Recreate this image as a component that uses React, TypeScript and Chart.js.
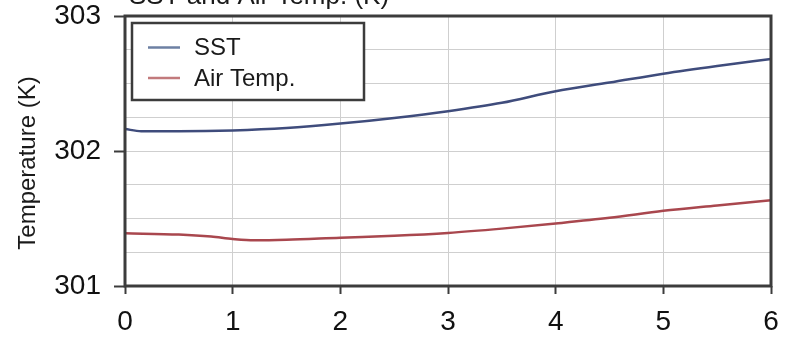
import React, { useEffect, useRef } from "react";
import { Chart, registerables } from "chart.js";

Chart.register(...registerables);

// Time axis (hours) and temperatures (K) for each series
const sstHours = [0, 0.15, 0.5, 1, 1.5, 2, 2.5, 3, 3.5, 4, 4.5, 5, 5.5, 6];
const sstValues = [302.163, 302.147, 302.146, 302.152, 302.17, 302.203, 302.245, 302.295, 302.357, 302.443, 302.507, 302.573, 302.63, 302.682];

const airHours = [0, 0.5, 0.8, 1, 1.2, 1.5, 2, 2.5, 3, 3.5, 4, 4.5, 5, 5.5, 6];
const airValues = [301.39, 301.381, 301.366, 301.348, 301.338, 301.342, 301.358, 301.372, 301.393, 301.425, 301.463, 301.505, 301.557, 301.597, 301.636];

const seriesLabels = ["SST", "Air Temp."];
const seriesColors = ["#3f4c7c", "#a9474e"];
const legendColors = ["#6d80a3", "#c27a7c"];

const chartTitle = "SST and Air Temp. (K)";
const yAxisTitle = "Temperature (K)";

const FONT = "'Liberation Sans', Arial, Helvetica, sans-serif";
const FRAME = "#3c3c3c";

const framePlugin = {
  id: "frame",
  afterDatasetsDraw(chart: any) {
    const { ctx, chartArea } = chart;
    ctx.save();
    ctx.strokeStyle = FRAME;
    ctx.lineWidth = 3;
    ctx.strokeRect(chartArea.left, chartArea.top, chartArea.right - chartArea.left, chartArea.bottom - chartArea.top);
    ctx.restore();
  },
};

const textPlugin = {
  id: "texts",
  afterDraw(chart: any) {
    const { ctx } = chart;
    ctx.save();
    // title sitting above the frame
    ctx.fillStyle = "#1a1a1a";
    ctx.font = `26px ${FONT}`;
    ctx.textAlign = "left";
    ctx.textBaseline = "alphabetic";
    ctx.fillText(chartTitle, 129, 4);

    // vertical axis title
    ctx.translate(28, 163);
    ctx.rotate(-Math.PI / 2);
    ctx.textAlign = "center";
    ctx.textBaseline = "middle";
    ctx.font = `24px ${FONT}`;
    ctx.fillText(yAxisTitle, 0, 0);
    ctx.restore();

    // legend box inside the plot
    ctx.save();
    const bx = 132, by = 23, bw = 232, bh = 77;
    ctx.fillStyle = "#fff";
    ctx.fillRect(bx, by, bw, bh);
    ctx.strokeStyle = FRAME;
    ctx.lineWidth = 2.5;
    ctx.strokeRect(bx, by, bw, bh);
    ctx.font = `24px ${FONT}`;
    ctx.textAlign = "left";
    ctx.textBaseline = "middle";
    const rows = [47.5, 78];
    seriesLabels.forEach((label, i) => {
      ctx.strokeStyle = legendColors[i];
      ctx.lineWidth = 2.5;
      ctx.beginPath();
      ctx.moveTo(148, rows[i]);
      ctx.lineTo(180, rows[i]);
      ctx.stroke();
      ctx.fillStyle = "#1a1a1a";
      ctx.fillText(label, 194, rows[i] + 1);
    });
    ctx.restore();
  },
};

export default function App() {
  const canvasRef = useRef<HTMLCanvasElement | null>(null);

  useEffect(() => {
    if (!canvasRef.current) return;
    const chart = new Chart(canvasRef.current, {
      type: "line",
      data: {
        datasets: [
          {
            label: seriesLabels[0],
            data: sstHours.map((h, i) => ({ x: h, y: sstValues[i] })),
            borderColor: seriesColors[0],
            borderWidth: 2.5,
            pointRadius: 0,
            cubicInterpolationMode: "monotone",
            fill: false,
          },
          {
            label: seriesLabels[1],
            data: airHours.map((h, i) => ({ x: h, y: airValues[i] })),
            borderColor: seriesColors[1],
            borderWidth: 2.5,
            pointRadius: 0,
            cubicInterpolationMode: "monotone",
            fill: false,
          },
        ],
      },
      options: {
        responsive: false,
        animation: false,
        layout: { padding: { top: 16, right: 20, left: 0, bottom: 0 } },
        plugins: {
          legend: { display: false },
          tooltip: { enabled: false },
          title: { display: false },
        },
        scales: {
          x: {
            type: "linear",
            min: 0,
            max: 6,
            ticks: {
              stepSize: 1,
              color: "#111",
              font: { size: 28, family: FONT },
              padding: 11,
              maxRotation: 0,
              autoSkip: false,
            },
            grid: {
              color: "#cfcfcf",
              lineWidth: 1,
              tickLength: 8,
              tickColor: FRAME,
              tickWidth: 2,
            },
            border: { display: false },
            afterFit(scale: any) {
              scale.height = 59;
              scale.paddingLeft = 0;
              scale.paddingRight = 0;
            },
          },
          y: {
            type: "linear",
            min: 301,
            max: 303,
            ticks: {
              stepSize: 0.25,
              autoSkip: false,
              color: "#111",
              font: { size: 28, family: FONT },
              padding: 13,
              callback: (v: any) => (Number.isInteger(Number(v)) ? String(v) : ""),
            },
            grid: {
              color: "#cfcfcf",
              lineWidth: 1,
              tickLength: 11,
              tickWidth: 2,
              tickColor: (ctx: any) =>
                ctx.tick && Number.isInteger(ctx.tick.value) ? FRAME : "rgba(0,0,0,0)",
            },
            border: { display: false },
            afterFit(scale: any) {
              scale.width = 125;
              scale.paddingTop = 0;
              scale.paddingBottom = 0;
            },
          },
        },
      },
      plugins: [framePlugin, textPlugin],
    });
    return () => chart.destroy();
  }, []);

  return (
    <div style={{ position: "absolute", left: 0, top: 0, width: 791, height: 345, background: "#fff" }}>
      <canvas ref={canvasRef} width={791} height={345} style={{ display: "block" }} />
    </div>
  );
}
